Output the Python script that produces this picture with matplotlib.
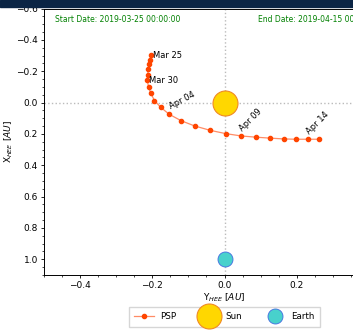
import matplotlib.pyplot as plt
from matplotlib.patches import Rectangle
from matplotlib.ticker import MultipleLocator

# PSP position (HEE), one point per day from 2019-03-25 to 2019-04-15
psp_y = [-0.204, -0.206, -0.208, -0.211, -0.213, -0.214, -0.210, -0.204, -0.194, -0.177,
         -0.153, -0.120, -0.083, -0.040, 0.003, 0.046, 0.088, 0.127, 0.164, 0.197,
         0.231, 0.262]
psp_x = [-0.302, -0.274, -0.244, -0.211, -0.175, -0.141, -0.097, -0.058, -0.013, 0.030,
         0.075, 0.116, 0.149, 0.177, 0.198, 0.213, 0.221, 0.227, 0.232, 0.234,
         0.234, 0.234]

label_idx = [0, 5, 10, 15, 20]
label_txt = ['Mar 25', 'Mar 30', 'Apr 04', 'Apr 09', 'Apr 14']
label_rot = [0, 0, 28, 45, 45]

sun_pos = (0.0, 0.0)
earth_pos = (0.0, 1.0)

start_date = 'Start Date: 2019-03-25 00:00:00'
end_date = 'End Date: 2019-04-15 00:00:00'

fig = plt.figure(figsize=(3.53, 3.32), dpi=100)
ax = fig.add_axes([44 / 353, 57 / 332, 361 / 353, 266.5 / 332])

# dark banner on top
fig.patches.append(Rectangle((0, 325 / 332), 1, 7 / 332, transform=fig.transFigure,
                             color='#0b2545', zorder=10))

ax.axhline(0, color='#bbbbbb', ls=':', lw=1, zorder=0)
ax.axvline(0, color='#bbbbbb', ls=':', lw=1, zorder=0)

ax.plot(psp_y, psp_x, '-o', color='#ff8c66', lw=0.9, ms=3,
        mfc='orangered', mec='orangered', label='PSP', zorder=3)
ax.plot(*sun_pos, 'o', ms=18, mfc='gold', mec='#f08a24', mew=0.8, ls='none', label='Sun', zorder=4)
ax.plot(earth_pos[0], earth_pos[1], 'o', ms=10.8, mfc='mediumturquoise', mec='royalblue',
        mew=0.6, ls='none', label='Earth', zorder=4)

for i, txt, rot in zip(label_idx, label_txt, label_rot):
    if rot == 0:
        ax.annotate(txt, (psp_y[i], psp_x[i]), xytext=(1.5, 0), textcoords='offset points',
                    fontsize=6, ha='left', va='center')
    else:
        ax.annotate(txt, (psp_y[i], psp_x[i]), xytext=(2.2, 2.2), textcoords='offset points',
                    fontsize=6, ha='left', va='bottom', rotation=rot, rotation_mode='anchor')

ax.text(0.03, 0.957, start_date, transform=ax.transAxes, color='green', fontsize=5.5, va='center')
ax.text(0.594, 0.957, end_date, transform=ax.transAxes, color='green', fontsize=5.5, va='center')

ax.set_xlim(-0.5, 0.5)
ax.set_ylim(1.1, -0.6)
ax.xaxis.set_major_locator(MultipleLocator(0.2))
ax.xaxis.set_minor_locator(MultipleLocator(0.05))
ax.yaxis.set_major_locator(MultipleLocator(0.2))
ax.yaxis.set_minor_locator(MultipleLocator(0.05))
ax.tick_params(which='major', labelsize=6.5, length=2.4, width=0.6, pad=2)
ax.tick_params(which='minor', length=1.4, width=0.5)
for s in ax.spines.values():
    s.set_linewidth(0.7)

ax.set_xlabel(r'Y$_{HEE}$ $[AU]$', fontsize=6.5, labelpad=1)
ax.set_ylabel(r'X$_{HEE}$ $[AU]$', fontsize=6.5, labelpad=1)

ax.legend(loc='upper center', bbox_to_anchor=(0.5, -0.104), ncol=3, fontsize=6.3,
          frameon=True, fancybox=False, borderpad=0.6, columnspacing=2.6, handlelength=2.2)

fig.savefig('out.png', dpi=100)
